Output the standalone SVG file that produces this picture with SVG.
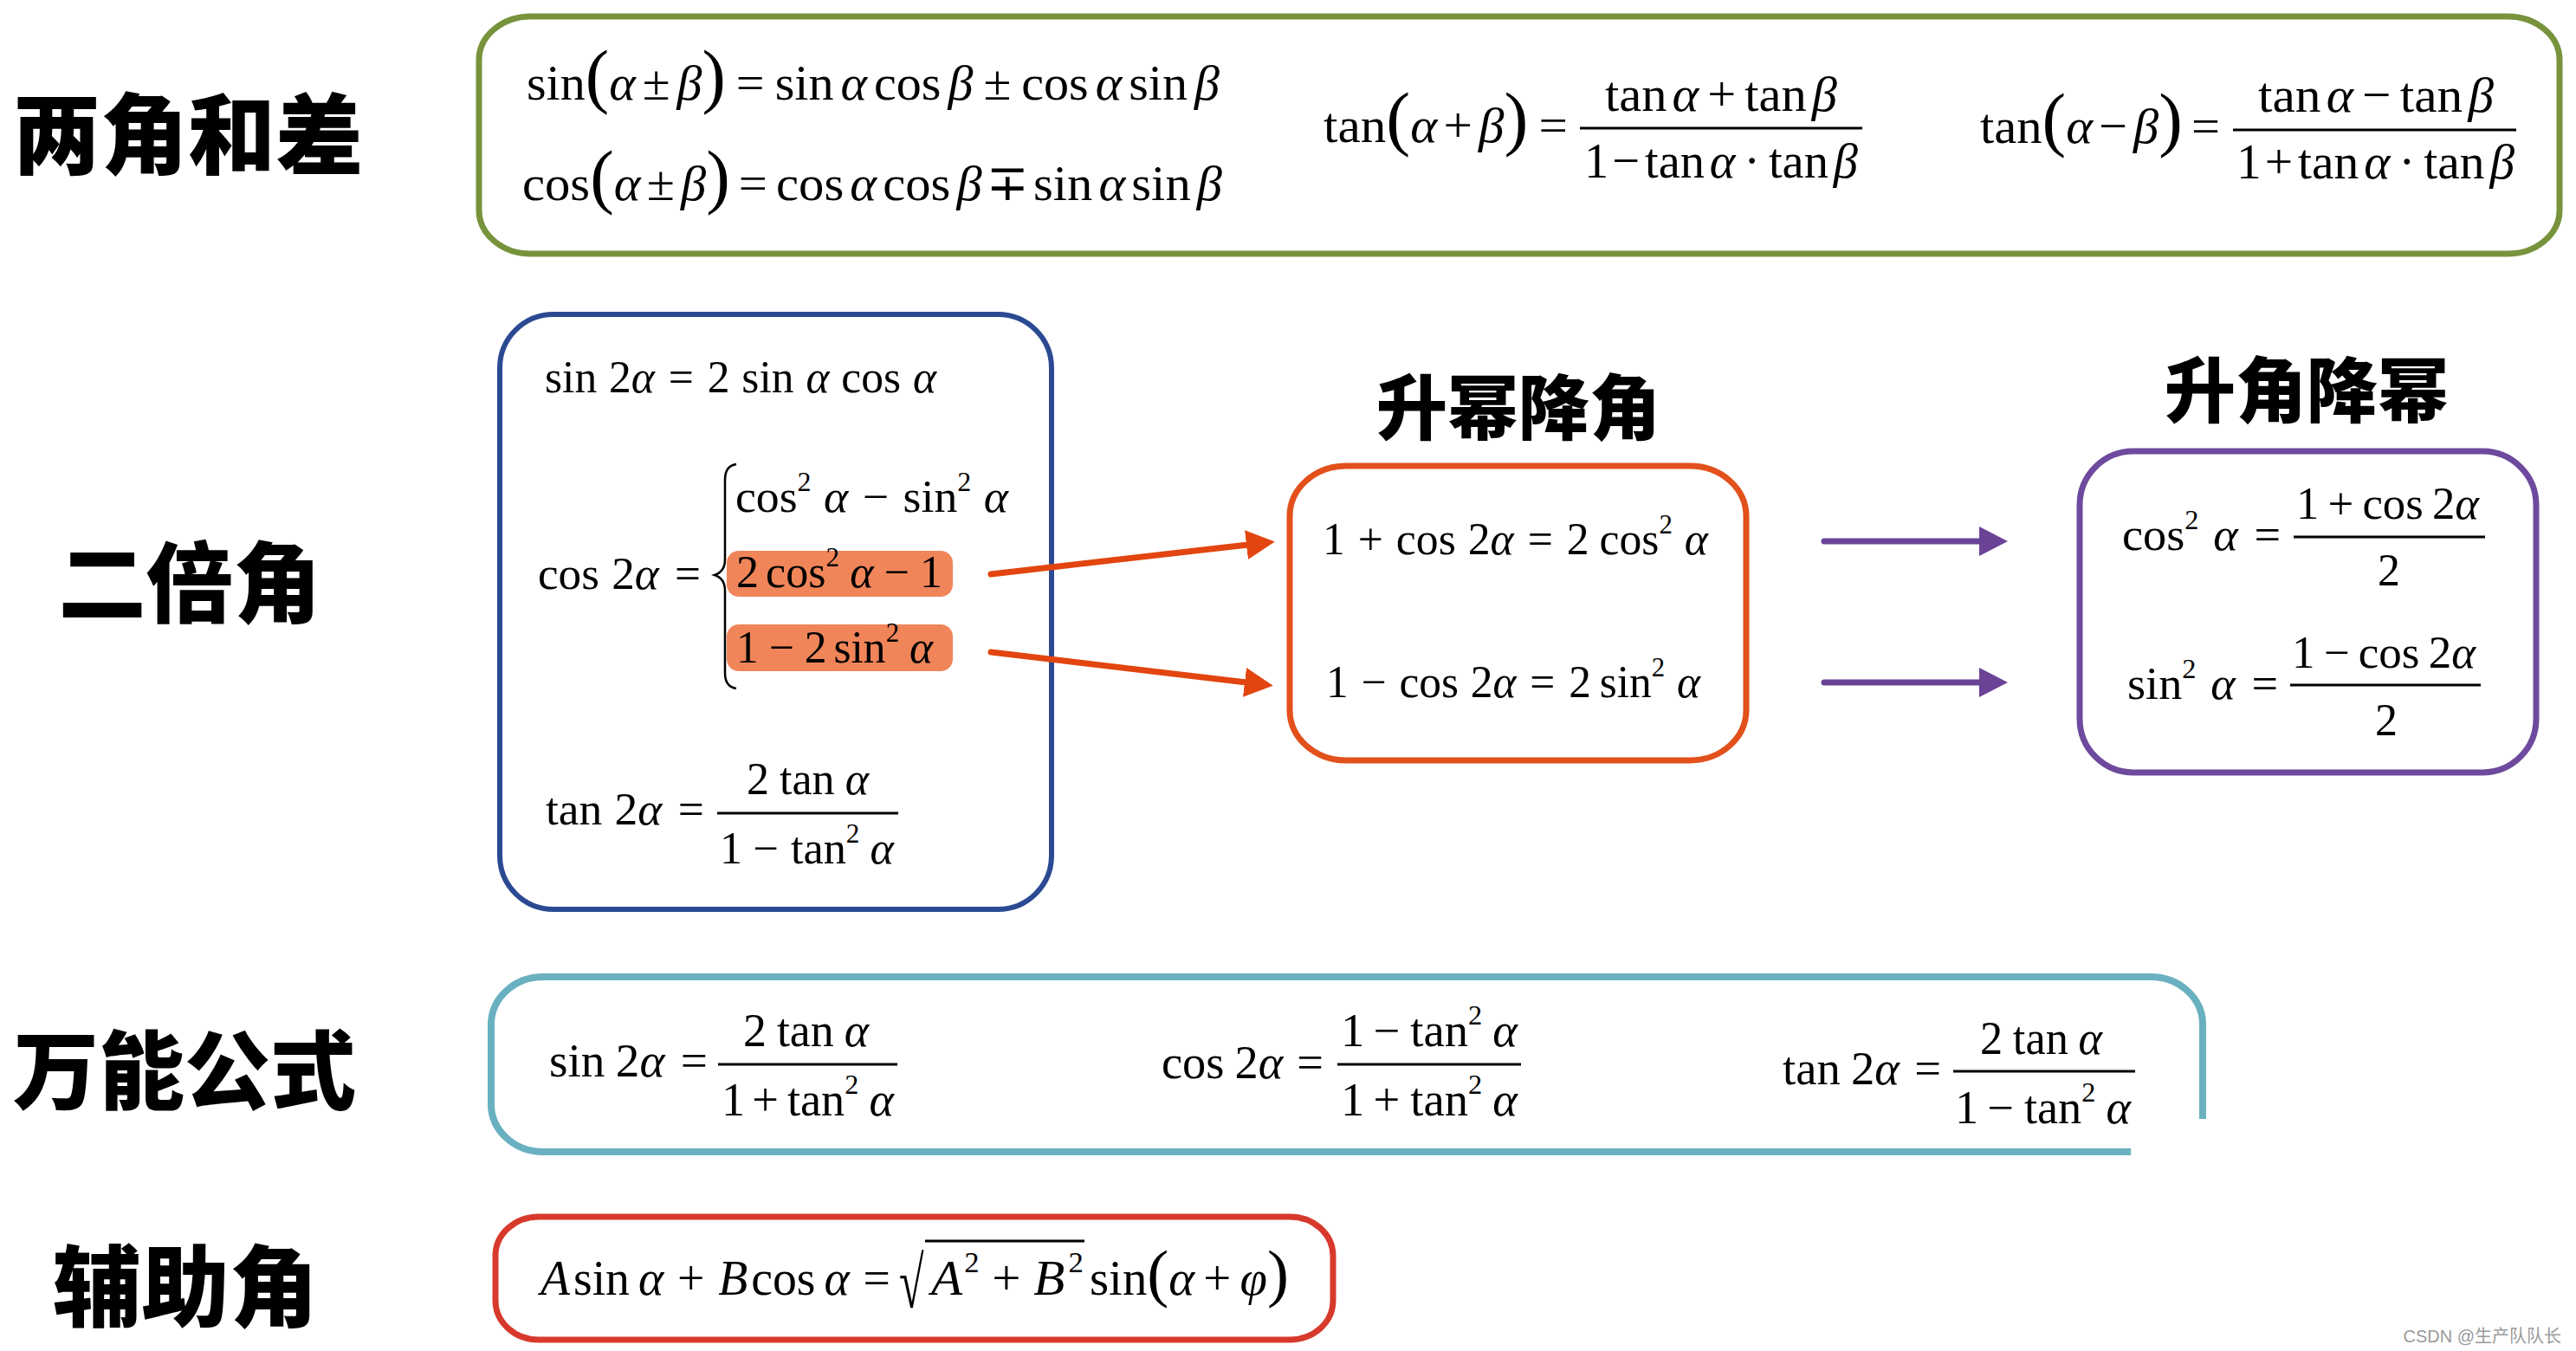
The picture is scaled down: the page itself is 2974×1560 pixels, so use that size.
<svg xmlns="http://www.w3.org/2000/svg" width="2974" height="1560" viewBox="0 0 2974 1560">
<defs>
<style>
.m{font-family:"Liberation Serif","Times New Roman","DejaVu Serif",serif;fill:#000}
.r1{font-size:58px}
.b{font-size:52px}
.c{font-size:54px}
.r{font-size:56px}
.i{font-style:italic}
.p{font-size:82px}
.pr{font-size:74px}
.h{font-family:"Noto Sans CJK SC","Noto Sans CJK JP",sans-serif;font-weight:900;text-anchor:middle;fill:#000}
.box{fill:none}
.fr{stroke:#000;stroke-width:3}
.hl{fill:#F0855A}
</style>
<marker id="ao" markerUnits="userSpaceOnUse" markerWidth="34" markerHeight="36" viewBox="0 -18 34 36" refX="2" refY="0" orient="auto"><path d="M0,-17 L33,0 L0,17 Z" fill="#E2450F"/></marker>
<marker id="ap" markerUnits="userSpaceOnUse" markerWidth="34" markerHeight="36" viewBox="0 -18 34 36" refX="2" refY="0" orient="auto"><path d="M0,-17 L33,0 L0,17 Z" fill="#6B4396"/></marker>
</defs>
<rect width="2974" height="1560" fill="#fff"/>

<g id="label-sum-diff"><text class="h" x="217" y="193" font-size="101">两角和差</text></g>
<g id="label-double"><text class="h" x="219" y="711" font-size="101">二倍角</text></g>
<g id="label-universal"><text class="h" x="213" y="1273" font-size="99">万能公式</text></g>
<g id="label-aux"><text class="h" x="214" y="1524" font-size="102">辅助角</text></g>

<g id="sum-diff">
<rect class="box" x="553" y="19" width="2402" height="274" rx="60" ry="50" stroke="#77933C" stroke-width="7"/>
<text class="m r1" x="608" y="115" textLength="800" lengthAdjust="spacingAndGlyphs">sin<tspan class="p">(</tspan><tspan class="i">α</tspan><tspan dx="8">±</tspan><tspan class="i" dx="8">β</tspan><tspan class="p">)</tspan><tspan dx="12">=</tspan><tspan dx="12">sin</tspan><tspan class="i" dx="8">α</tspan><tspan dx="8">cos</tspan><tspan class="i" dx="8">β</tspan><tspan dx="12">±</tspan><tspan dx="12">cos</tspan><tspan class="i" dx="8">α</tspan><tspan dx="8">sin</tspan><tspan class="i" dx="8">β</tspan></text>
<text class="m r1" x="603" y="231" textLength="808" lengthAdjust="spacingAndGlyphs">cos<tspan class="p">(</tspan><tspan class="i">α</tspan><tspan dx="7">±</tspan><tspan class="i" dx="7">β</tspan><tspan class="p">)</tspan><tspan dx="10">=</tspan><tspan dx="10">cos</tspan><tspan class="i" dx="7">α</tspan><tspan dx="7">cos</tspan><tspan class="i" dx="7">β</tspan><tspan dx="5">∓</tspan><tspan dx="5">sin</tspan><tspan class="i" dx="7">α</tspan><tspan dx="7">sin</tspan><tspan class="i" dx="7">β</tspan></text>
<text class="m r1" x="1528" y="164" textLength="282" lengthAdjust="spacingAndGlyphs">tan<tspan class="p">(</tspan><tspan class="i">α</tspan><tspan dx="7">+</tspan><tspan class="i" dx="7">β</tspan><tspan class="p">)</tspan><tspan dx="12">=</tspan></text>
<line class="fr" x1="1824" y1="148" x2="2150" y2="148"/>
<text class="m r1" x="1853" y="128" textLength="268" lengthAdjust="spacingAndGlyphs">tan<tspan class="i" dx="6">α</tspan><tspan dx="10">+</tspan><tspan dx="10">tan</tspan><tspan class="i" dx="6">β</tspan></text>
<text class="m r1" x="1829" y="205" textLength="316" lengthAdjust="spacingAndGlyphs">1<tspan dx="4">−</tspan><tspan dx="6">tan</tspan><tspan class="i" dx="6">α</tspan><tspan dx="10">·</tspan><tspan dx="10">tan</tspan><tspan class="i" dx="6">β</tspan></text>
<text class="m r1" x="2286" y="165" textLength="277" lengthAdjust="spacingAndGlyphs">tan<tspan class="p">(</tspan><tspan class="i">α</tspan><tspan dx="7">−</tspan><tspan class="i" dx="7">β</tspan><tspan class="p">)</tspan><tspan dx="10">=</tspan></text>
<line class="fr" x1="2578" y1="150" x2="2905" y2="150"/>
<text class="m r1" x="2607" y="129" textLength="272" lengthAdjust="spacingAndGlyphs">tan<tspan class="i" dx="6">α</tspan><tspan dx="10">−</tspan><tspan dx="10">tan</tspan><tspan class="i" dx="6">β</tspan></text>
<text class="m r1" x="2582" y="206" textLength="321" lengthAdjust="spacingAndGlyphs">1<tspan dx="4">+</tspan><tspan dx="6">tan</tspan><tspan class="i" dx="6">α</tspan><tspan dx="10">·</tspan><tspan dx="10">tan</tspan><tspan class="i" dx="6">β</tspan></text>
</g>

<g id="double-angle">
<rect class="box" x="577" y="363" width="637" height="687" rx="62" ry="62" stroke="#2B4A92" stroke-width="6"/>
<rect class="hl" x="839" y="636" width="261" height="53" rx="14"/>
<rect class="hl" x="839" y="721" width="261" height="54" rx="14"/>
<text class="m b" x="629" y="453" textLength="452" lengthAdjust="spacingAndGlyphs">sin<tspan dx="14">2</tspan><tspan class="i">α</tspan><tspan dx="16">=</tspan><tspan dx="16">2</tspan><tspan dx="14">sin</tspan><tspan class="i" dx="14">α</tspan><tspan dx="14">cos</tspan><tspan class="i" dx="14">α</tspan></text>
<text class="m b" x="621" y="680" textLength="188" lengthAdjust="spacingAndGlyphs">cos<tspan dx="14">2</tspan><tspan class="i">α</tspan><tspan dx="18">=</tspan></text>
<path d="M850,536 Q837,538 837,554 V646 Q837,660 825,664 Q837,668 837,682 V777 Q837,793 850,795" fill="none" stroke="#000" stroke-width="2.5"/>
<text class="m b" x="849" y="591" textLength="315" lengthAdjust="spacingAndGlyphs">cos<tspan font-size="31" dy="-24">2</tspan><tspan class="i" dy="24" dx="14">α</tspan><tspan dx="16">−</tspan><tspan dx="16">sin</tspan><tspan font-size="31" dy="-24">2</tspan><tspan class="i" dy="24" dx="14">α</tspan></text>
<text class="m b" x="850" y="678" textLength="238" lengthAdjust="spacingAndGlyphs">2<tspan dx="8">cos</tspan><tspan font-size="31" dy="-24">2</tspan><tspan class="i" dy="24" dx="12">α</tspan><tspan dx="12">−</tspan><tspan dx="12">1</tspan></text>
<text class="m b" x="850" y="765" textLength="227" lengthAdjust="spacingAndGlyphs">1<tspan dx="12">−</tspan><tspan dx="12">2</tspan><tspan dx="8">sin</tspan><tspan font-size="31" dy="-24">2</tspan><tspan class="i" dy="24" dx="12">α</tspan></text>
<text class="m b" x="630" y="952" textLength="183" lengthAdjust="spacingAndGlyphs">tan<tspan dx="14">2</tspan><tspan class="i">α</tspan><tspan dx="18">=</tspan></text>
<line class="fr" x1="828" y1="939" x2="1037" y2="939" stroke-width="2.5"/>
<text class="m b" x="862" y="917" textLength="141" lengthAdjust="spacingAndGlyphs">2<tspan dx="12">tan</tspan><tspan class="i" dx="12">α</tspan></text>
<text class="m b" x="831" y="997" textLength="201" lengthAdjust="spacingAndGlyphs">1<tspan dx="12">−</tspan><tspan dx="14">tan</tspan><tspan font-size="31" dy="-24">2</tspan><tspan class="i" dy="24" dx="12">α</tspan></text>
</g>

<g id="raise-power">
<text class="h" x="1753" y="501" font-size="82">升幂降角</text>
<rect class="box" x="1489" y="538" width="527" height="340" rx="65" ry="58" stroke="#E2501B" stroke-width="7"/>
<text class="m b" x="1527" y="640" textLength="445" lengthAdjust="spacingAndGlyphs">1<tspan dx="15">+</tspan><tspan dx="15">cos</tspan><tspan dx="14">2</tspan><tspan class="i">α</tspan><tspan dx="16">=</tspan><tspan dx="16">2</tspan><tspan dx="12">cos</tspan><tspan font-size="31" dy="-24">2</tspan><tspan class="i" dy="24" dx="14">α</tspan></text>
<text class="m b" x="1531" y="805" textLength="432" lengthAdjust="spacingAndGlyphs">1<tspan dx="15">−</tspan><tspan dx="15">cos</tspan><tspan dx="14">2</tspan><tspan class="i">α</tspan><tspan dx="16">=</tspan><tspan dx="16">2</tspan><tspan dx="10">sin</tspan><tspan font-size="31" dy="-24">2</tspan><tspan class="i" dy="24" dx="14">α</tspan></text>
</g>

<g id="raise-angle">
<text class="h" x="2663" y="481" font-size="82">升角降幂</text>
<rect class="box" x="2401" y="521" width="527" height="371" rx="62" ry="62" stroke="#6E4A9E" stroke-width="7"/>
<text class="m b" x="2450" y="635" textLength="183" lengthAdjust="spacingAndGlyphs">cos<tspan font-size="31" dy="-24">2</tspan><tspan class="i" dy="24" dx="16">α</tspan><tspan dx="18">=</tspan></text>
<line class="fr" x1="2648" y1="620" x2="2869" y2="620" stroke-width="2.5"/>
<text class="m b" x="2651" y="599" textLength="211" lengthAdjust="spacingAndGlyphs">1<tspan dx="10">+</tspan><tspan dx="10">cos</tspan><tspan dx="10">2</tspan><tspan class="i">α</tspan></text>
<text class="m b" x="2758" y="676" text-anchor="middle">2</text>
<text class="m b" x="2456" y="807" textLength="174" lengthAdjust="spacingAndGlyphs">sin<tspan font-size="31" dy="-24">2</tspan><tspan class="i" dy="24" dx="16">α</tspan><tspan dx="18">=</tspan></text>
<line class="fr" x1="2644" y1="791" x2="2864" y2="791" stroke-width="2.5"/>
<text class="m b" x="2646" y="771" textLength="212" lengthAdjust="spacingAndGlyphs">1<tspan dx="10">−</tspan><tspan dx="10">cos</tspan><tspan dx="10">2</tspan><tspan class="i">α</tspan></text>
<text class="m b" x="2755" y="849" text-anchor="middle">2</text>
</g>

<g id="universal">
<path class="box" d="M2543,1292 V1183 A60,55 0 0 0 2483,1128 H627 A60,55 0 0 0 567,1183 V1275 A60,55 0 0 0 627,1330 H2460" stroke="#69B0C0" stroke-width="8"/>
<text class="m c" x="634" y="1243" textLength="183" lengthAdjust="spacingAndGlyphs">sin<tspan dx="12">2</tspan><tspan class="i">α</tspan><tspan dx="18">=</tspan></text>
<line class="fr" x1="829" y1="1229" x2="1036" y2="1229"/>
<text class="m c" x="858" y="1208" textLength="145" lengthAdjust="spacingAndGlyphs">2<tspan dx="12">tan</tspan><tspan class="i" dx="12">α</tspan></text>
<text class="m c" x="833" y="1288" textLength="199" lengthAdjust="spacingAndGlyphs">1<tspan dx="8">+</tspan><tspan dx="10">tan</tspan><tspan font-size="32" dy="-25">2</tspan><tspan class="i" dy="25" dx="12">α</tspan></text>
<text class="m c" x="1341" y="1245" textLength="187" lengthAdjust="spacingAndGlyphs">cos<tspan dx="12">2</tspan><tspan class="i">α</tspan><tspan dx="16">=</tspan></text>
<line class="fr" x1="1544" y1="1229" x2="1756" y2="1229"/>
<text class="m c" x="1548" y="1208" textLength="204" lengthAdjust="spacingAndGlyphs">1<tspan dx="10">−</tspan><tspan dx="12">tan</tspan><tspan font-size="32" dy="-25">2</tspan><tspan class="i" dy="25" dx="12">α</tspan></text>
<text class="m c" x="1548" y="1288" textLength="204" lengthAdjust="spacingAndGlyphs">1<tspan dx="10">+</tspan><tspan dx="12">tan</tspan><tspan font-size="32" dy="-25">2</tspan><tspan class="i" dy="25" dx="12">α</tspan></text>
<text class="m c" x="2058" y="1252" textLength="183" lengthAdjust="spacingAndGlyphs">tan<tspan dx="12">2</tspan><tspan class="i">α</tspan><tspan dx="17">=</tspan></text>
<line class="fr" x1="2255" y1="1237" x2="2465" y2="1237"/>
<text class="m c" x="2286" y="1217" textLength="141" lengthAdjust="spacingAndGlyphs">2<tspan dx="12">tan</tspan><tspan class="i" dx="12">α</tspan></text>
<text class="m c" x="2257" y="1297" textLength="203" lengthAdjust="spacingAndGlyphs">1<tspan dx="10">−</tspan><tspan dx="12">tan</tspan><tspan font-size="32" dy="-25">2</tspan><tspan class="i" dy="25" dx="12">α</tspan></text>
</g>

<g id="auxiliary">
<rect class="box" x="572" y="1405" width="967" height="142" rx="50" ry="45" stroke="#D73A2C" stroke-width="7"/>
<text class="m r" x="624" y="1495" textLength="404" lengthAdjust="spacingAndGlyphs"><tspan class="i">A</tspan><tspan dx="4">sin</tspan><tspan class="i" dx="10">α</tspan><tspan dx="16">+</tspan><tspan class="i" dx="16">B</tspan><tspan dx="4">cos</tspan><tspan class="i" dx="10">α</tspan><tspan dx="16">=</tspan></text>
<text class="m" font-size="84" transform="translate(1038,1510) scale(0.62,1)" x="0" y="0">√</text>
<line x1="1068" y1="1433" x2="1252" y2="1433" stroke="#000" stroke-width="3"/>
<text class="m r" x="1075" y="1495" textLength="176" lengthAdjust="spacingAndGlyphs"><tspan class="i">A</tspan><tspan font-size="33" dy="-26" dx="2">2</tspan><tspan dy="26" dx="14">+</tspan><tspan class="i" dx="14">B</tspan><tspan font-size="33" dy="-26" dx="4">2</tspan></text>
<text class="m r" x="1258" y="1495" textLength="230" lengthAdjust="spacingAndGlyphs">sin<tspan class="pr">(</tspan><tspan class="i">α</tspan><tspan dx="10">+</tspan><tspan class="i" dx="10">φ</tspan><tspan class="pr">)</tspan></text>
</g>

<g id="connectors" fill="none" stroke-linecap="round">
<line x1="1144" y1="663" x2="1441" y2="629" stroke="#E2450F" stroke-width="7" marker-end="url(#ao)"/>
<line x1="1144" y1="753" x2="1439" y2="788" stroke="#E2450F" stroke-width="7" marker-end="url(#ao)"/>
<line x1="2106" y1="625" x2="2287" y2="625" stroke="#6B4396" stroke-width="7" marker-end="url(#ap)"/>
<line x1="2106" y1="788" x2="2287" y2="788" stroke="#6B4396" stroke-width="7" marker-end="url(#ap)"/>
</g>

<text x="2957" y="1550" font-family="Liberation Sans,Noto Sans CJK SC,sans-serif" font-size="20" fill="#9a9a9a" text-anchor="end">CSDN @生产队队长</text>
</svg>
